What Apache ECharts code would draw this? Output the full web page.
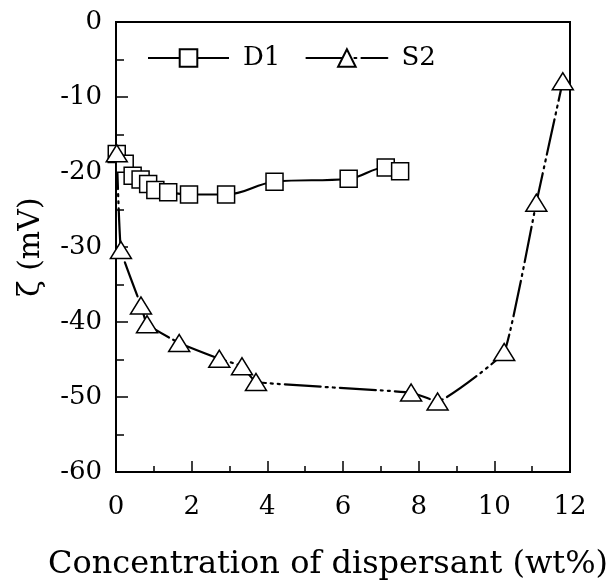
<!DOCTYPE html>
<html>
<head>
<meta charset="utf-8">
<script src="https://cdn.jsdelivr.net/npm/echarts@6/dist/echarts.min.js"></script>
<style>
html,body{margin:0;padding:0;background:#fff;}
#chart{width:614px;height:586px;}
</style>
</head>
<body>
<div id="chart"></div>
<script>
var xTicks = [0, 2, 4, 6, 8, 10, 12];
var yTicks = [0, -10, -20, -30, -40, -50, -60];

var d1X = [0.02, 0.23, 0.44, 0.65, 0.85, 1.04, 1.38, 1.93, 2.91, 4.19, 6.15, 7.13, 7.51];
var d1Y = [-17.6, -18.9, -20.5, -21.0, -21.6, -22.4, -22.7, -23.0, -23.0, -21.3, -20.9, -19.4, -19.9];

var s2X = [0.02, 0.13, 0.66, 0.82, 1.67, 2.73, 3.33, 3.70, 7.80, 8.50, 10.26, 11.11, 11.81];
var s2Y = [-17.5, -30.4, -37.8, -40.3, -42.8, -44.9, -45.9, -48.0, -49.4, -50.6, -44.0, -24.1, -7.9];

function pairs(xs, ys) { return xs.map(function (x, i) { return [x, ys[i]]; }); }

var FONT = '"DejaVu Serif", "Liberation Serif", serif';
var chart = echarts.init(document.getElementById('chart'), null, {renderer: 'canvas'});
chart.setOption({
  animation: false,
  backgroundColor: '#fff',
  grid: {left: 116, right: 44, top: 22, bottom: 113, show: true, borderColor: '#000', borderWidth: 2, backgroundColor: 'transparent'},
  legend: {
    left: 142, top: 40,
    itemWidth: 81, itemHeight: 22, itemGap: 25,
    textStyle: {fontFamily: FONT, fontSize: 26, color: '#000', padding: [0, 0, 0, 9]},
    data: ['D1', 'S2']
  },
  xAxis: {
    type: 'value', min: xTicks[0], max: xTicks[xTicks.length - 1], interval: 2,
    axisLine: {show: true, onZero: false, lineStyle: {color: '#000', width: 2}},
    axisTick: {show: true, inside: true, length: 11, lineStyle: {color: '#000', width: 1.5}},
    minorTick: {show: true, splitNumber: 2, length: 6, lineStyle: {color: '#000', width: 1.5}},
    splitLine: {show: false},
    axisLabel: {fontFamily: FONT, fontSize: 26, color: '#000', margin: 22},
    name: 'Concentration of dispersant (wt%)',
    nameLocation: 'middle', nameGap: 77,
    nameTextStyle: {fontFamily: FONT, fontSize: 32, color: '#000', padding: [0, 30, 0, 0]}
  },
  yAxis: {
    type: 'value', min: yTicks[yTicks.length - 1], max: yTicks[0], interval: 10,
    axisLine: {show: true, onZero: false, lineStyle: {color: '#000', width: 2}},
    axisTick: {show: true, inside: true, length: 12, lineStyle: {color: '#000', width: 1.5}},
    minorTick: {show: true, splitNumber: 2, length: 8, lineStyle: {color: '#000', width: 1.5}},
    splitLine: {show: false},
    axisLabel: {fontFamily: FONT, fontSize: 26, color: '#000', margin: 14},
    name: 'ζ (mV)',
    nameLocation: 'middle', nameGap: 70,
    nameTextStyle: {fontFamily: FONT, fontSize: 30, color: '#000'}
  },
  series: [
    {
      name: 'D1', type: 'line', data: pairs(d1X, d1Y), smooth: 0.4,
      symbol: 'rect', symbolSize: 17,
      itemStyle: {color: '#fff', borderColor: '#000', borderWidth: 1.5},
      lineStyle: {color: '#000', width: 2.2}
    },
    {
      name: 'S2', type: 'line', data: pairs(s2X, s2Y), smooth: 0.1,
      symbol: 'triangle', symbolSize: [21, 17],
      itemStyle: {color: '#fff', borderColor: '#000', borderWidth: 1.5},
      lineStyle: {color: '#000', width: 2.2, type: [36, 5, 2, 5, 2, 5], cap: 'round'}
    }
  ]
});
</script>
</body>
</html>
